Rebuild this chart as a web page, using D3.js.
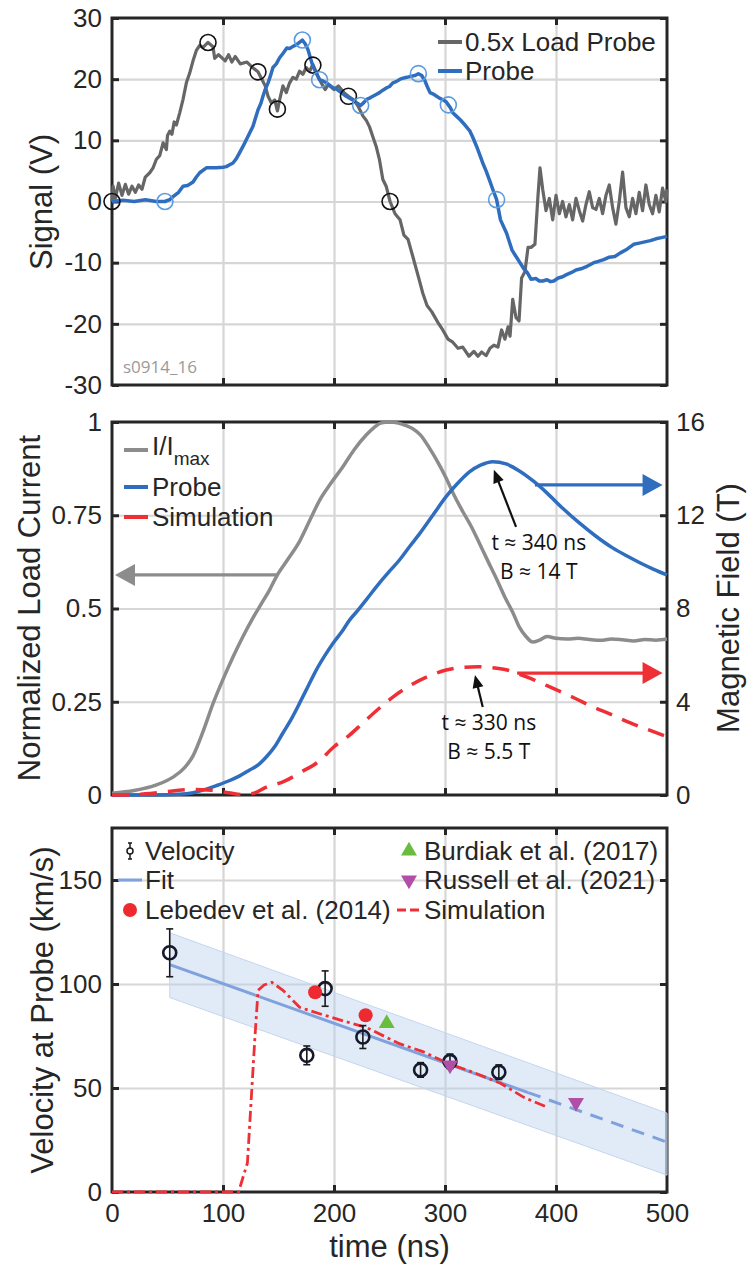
<!DOCTYPE html>
<html>
<head>
<meta charset="utf-8">
<script src="https://cdn.jsdelivr.net/npm/d3@7"></script>
<style>
  body { margin: 0; background: #fff; }
  text { font-family: "Liberation Sans", Arial, Helvetica, sans-serif; fill: #262626; }
  .note { font-family: "Open Sans", "Noto Sans", sans-serif; }
</style>
</head>
<body>
<div id="chart"></div>
<script>
// ---- shared axis values
const timeTicks = [0, 100, 200, 300, 400, 500];
const signalTicks = [-30, -20, -10, 0, 10, 20, 30];
const currentTicks = [0, 0.25, 0.5, 0.75, 1];
const fieldTicks = [0, 4, 8, 12, 16];
const velTicks = [0, 50, 100, 150];

// ---- top panel: raw signals [t (ns), V]
const loadProbe = [[0,0],[1,2.5],[3,0.5],[6,3],[9,1],[12,2.8],[15,1.2],[18,2.5],[21,1.5],[24,2.7],[27,2],[30,4],
  [34,4.7],[37,5.5],[40,6.9],[43,7.5],[46,9.6],[49,8.5],[50,10.8],[52,11.5],[54,11],[56,13],[58,12.5],[61,14.5],
  [64,16.7],[67,19.4],[70,21],[73,23],[76,24.7],[79,25.5],[82,25.2],[86.5,26],[91,25.3],[92.5,23.4],[96,24],
  [102,23],[105,24],[108,22.8],[111,23.7],[115.6,22.5],[121.6,22.8],[126,22],[131.5,21.2],[135,20],[138,18.9],
  [140.6,17.2],[143.6,16.1],[146.6,16.6],[149,14.8],[151,16.6],[154,18.9],[157,17.8],[160,19.4],[163,20.3],
  [166,20],[169,21.3],[172,20.8],[175,21.9],[178,21.3],[181,22.4],[185.5,20.5],[188.5,19.4],[192,18.3],[195,19.1],
  [200,18.3],[204,18.9],[209,17.8],[213,17.2],[218,16.6],[221.6,15.6],[226,14],[229,13.3],[232,12.2],[235,10.6],
  [238,9],[241,6.8],[244,3.6],[247,2.5],[250.5,0],[255,-2],[259.5,-3],[263,-5.5],[266.7,-6.2],[271,-9],
  [276.6,-12.7],[280,-15],[283.8,-17],[288,-18],[293.7,-19.8],[298,-21],[302.7,-22.5],[307,-23],[311.7,-24],
  [316,-23.8],[321.6,-25.3],[326,-24.5],[329.7,-25.3],[333,-24.6],[337,-25.2],[340.5,-24],[344,-23.5],
  [347.7,-23.8],[351,-21],[354,-22.5],[356.8,-20.5],[358.6,-22],[361,-16],[364,-19],[366.7,-19.5],[369,-12.5],
  [372,-11.5],[374.8,-7.5],[377.5,-7.5],[381,-7],[383.8,1],[385.6,5.5],[388,2],[391,-1.5],[394,0.5],[397,-3],
  [400,1],[403,-2],[406,0],[409,-2.5],[412,-0.5],[415,-3],[418,0.5],[421,-1.5],[424,-3.2],[427,-0.5],[430,1.6],
  [433,-1],[436,-1.3],[439,0.5],[442,-2],[445,1],[448,2.7],[451,-1],[454,-3.7],[457,0],[460,4.8],[463,-1],
  [466,-2.5],[469,0.5],[472,-2],[475,1.5],[478,-1.5],[481,2.7],[484,-0.5],[487,-2],[490,1],[493,-1.7],[496,2.2],
  [499,0],[500,2]];
const probeSignal = [[0,0],[10,0.2],[20,0],[30,0.3],[40,0],[47.7,0],[52,0.3],[55,0.8],[60,1.5],[64,2.5],[68,2.6],
  [73,3.2],[76,4],[79,4.7],[85,5.5],[94,5.5],[100,5.6],[103,5.7],[106,6],[109,6.3],[112,7],[115,8],[118,9],
  [121,10.1],[124,11.2],[127,12.3],[129,13.5],[131.6,15],[134,16],[136,17.2],[138,18.3],[140.6,19.4],[143,20.7],
  [145,21.9],[148,22.5],[151,23.5],[154,24.2],[157.5,25.1],[160,25],[163.5,25.4],[166,25.6],[169.5,26.1],
  [171.5,26.4],[174,25.8],[176.6,24.8],[179,23.3],[181,22.1],[184,21],[187,19.9],[190,19.7],[193.4,19.4],
  [196,19],[199,18.6],[202,18.4],[205,18],[208,17.6],[211,17.2],[214,16.9],[217,16.6],[220,16.2],[224,15.7],
  [227,16.2],[229.4,16.7],[232,16.9],[235,17.2],[238,17.5],[241,17.8],[244,18.2],[247.5,18.6],[250,18.8],
  [253,19.4],[256,19.6],[259.5,20],[263,20.2],[265.5,20.3],[270,20.5],[273,20.6],[276,20.9],[279,20.6],
  [282,19.7],[284,18.8],[286.5,17.8],[289,17.6],[292.5,17.2],[295,16.9],[298.5,16.6],[301,16.3],[303,15.8],
  [305,15.3],[307,14.5],[310,14],[313.5,13.4],[318,12.5],[322.5,11.5],[325,10.5],[328.5,9],[331,7.8],[334,6.3],
  [337,5],[340.5,3.3],[343,2],[346.5,0.3],[350,-3],[355.5,-5.2],[360.5,-8],[364,-9],[367.5,-10],[371,-11],
  [374,-11.6],[377.5,-12.7],[382,-12.6],[385,-13],[388,-13],[392,-12.8],[395,-13.1],[398,-13],[402,-12.5],
  [406,-12.3],[409,-12],[414,-11.6],[418,-11.2],[422.5,-11],[428,-10.6],[434,-10],[438,-9.8],[443,-9.5],
  [448,-9.1],[453,-9],[458,-8.4],[464,-7.8],[470,-7],[475,-6.8],[480,-6.6],[485,-6.4],[490,-6.1],[495,-5.9],
  [500,-5.7]];
const loadMarks = [[0,0],[86.5,26],[131.5,21.2],[149,15.1],[181,22.3],[213,17.2],[250.5,0]];
const probeMarks = [[47.7,0],[171.5,26.4],[187,19.9],[224,15.7],[276,20.9],[303,15.8],[346.5,0.3]];

// ---- middle panel: I/Imax (normalized), probe and simulation field (T)
const currentNorm = [[0,0.005],[20,0.012],[40,0.027],[55,0.048],[65,0.072],[73,0.105],[82,0.17],[91,0.245],
  [100,0.31],[109,0.37],[118,0.425],[127,0.475],[135,0.515],[142,0.55],[148,0.585],[158,0.63],[169,0.68],
  [178,0.735],[187,0.79],[197,0.835],[208,0.88],[218,0.925],[229,0.965],[236,0.985],[242,0.997],[250,1.0],
  [258,0.997],[265,0.99],[271,0.982],[278,0.965],[286,0.93],[294,0.89],[301,0.85],[308,0.805],[316,0.76],
  [324,0.718],[331,0.675],[339,0.625],[347,0.576],[354,0.53],[361,0.49],[367,0.45],[373,0.425],[379,0.41],
  [385,0.415],[392,0.425],[400,0.42],[410,0.418],[420,0.42],[430,0.417],[440,0.415],[450,0.418],[460,0.416],
  [470,0.413],[480,0.417],[490,0.415],[500,0.418]];
const probeField = [[0,0],[40,0],[60,0.03],[73,0.1],[85,0.25],[94,0.4],[105,0.6],[115,0.82],[124,1.07],
  [132,1.3],[139,1.63],[147,2.1],[154,2.66],[162,3.3],[169,3.94],[177,4.7],[184,5.36],[192,6.0],[199,6.5],
  [207,7.0],[214,7.5],[222,7.95],[229,8.37],[241,9.1],[250,9.6],[259,10.08],[268,10.65],[277,11.2],[289,12.0],
  [301,12.8],[311,13.35],[322,13.86],[332,14.15],[343,14.3],[355,14.2],[367,13.9],[380,13.45],[392,12.95],
  [406,12.3],[421,11.67],[436,11.1],[451,10.6],[464,10.25],[476,9.95],[488,9.68],[500,9.44]];
const simField = [[0,0],[15,0],[30,0.05],[45,0.12],[60,0.2],[75,0.24],[90,0.2],[105,0.1],[118,0.02],[128,0.08],
  [139,0.34],[154,0.56],[171,1.0],[186,1.43],[200,2.07],[214,2.57],[226,3.09],[241,3.73],[253,4.2],[266,4.62],
  [284,5.07],[301,5.36],[315,5.47],[330,5.5],[345,5.45],[356,5.36],[366,5.2],[377,5.0],[389,4.75],[401,4.5],
  [417,4.15],[433,3.78],[450,3.45],[467,3.09],[483,2.8],[500,2.5]];

// ---- bottom panel: velocity at probe (km/s)
const velT = [52, 175.5, 192, 226, 278, 304.5, 348.5];
const velV = [115, 65.7, 97.8, 74.5, 58.7, 62.8, 57.6];
const velErr = [11.5, 4.5, 8.5, 5.5, 3.5, 3.5, 3.5];
const fitSolid = [[52,109.3],[375,47.8]];
const fitDashed = [[375,47.8],[500,24]];
const bandUpper = [[52,124.6],[500,37.9]];
const bandLower = [[52,93.5],[500,8.1]];
const lebedev = [[183,96],[228.5,85]];
const burdiak = [[247.5,81]];
const russell = [[304.5,61],[418,43]];
const simVelocity = [[0,0],[110,0],[114,0],[122,14],[128.6,73],[131.6,97],[137,99.5],[144,100.8],[154,97],
  [169,88.8],[187,85.7],[210,82],[229.5,79],[259,71.3],[280,67.5],[302,62],[328,57],[350,52.3],[371,45.5],
  [392,40.8]];

// ---- layout
const W = 747, H = 1268;
const L = 112, R = 667;
const axisColor = '#262626', gridColor = '#d6d6d6';
const cGray = '#666666', cGrayLight = '#8c8c8c', cBlue = '#2f6ebf', cBlueLight = '#5b9be0',
  cRed = '#ee2f36', cFit = '#7fa1dc';

const svg = d3.select('#chart').append('svg')
  .attr('width', W).attr('height', H);

const x = d3.scaleLinear().domain([0, 500]).range([L, R]);

function panel(top, bottom, yDom, yTicks) {
  const y = d3.scaleLinear().domain(yDom).range([bottom, top]);
  const g = svg.append('g');
  const h = bottom - top, w = R - L;

  // grid
  g.append('g').attr('transform', `translate(0,${bottom})`)
    .call(d3.axisBottom(x).tickValues(timeTicks.slice(1, -1)).tickSize(-h).tickFormat(''))
    .call(a => a.select('.domain').remove())
    .selectAll('line').attr('stroke', gridColor).attr('stroke-width', 2.2);
  g.append('g').attr('transform', `translate(${L},0)`)
    .call(d3.axisLeft(y).tickValues(yTicks.filter(d => d > yDom[0] && d < yDom[1])).tickSize(-w).tickFormat(''))
    .call(a => a.select('.domain').remove())
    .selectAll('line').attr('stroke', gridColor).attr('stroke-width', 2.2);

  g.append('rect')
    .attr('x', L).attr('y', top).attr('width', w).attr('height', h)
    .attr('fill', 'none').attr('stroke', axisColor).attr('stroke-width', 3);

  // inward tick marks on all four sides
  const inner = timeTicks.slice(1, -1);
  g.append('g').attr('transform', `translate(0,${top})`)
    .call(d3.axisTop(x).tickValues(inner).tickSize(-7).tickFormat(''));
  g.append('g').attr('transform', `translate(0,${bottom})`)
    .call(d3.axisBottom(x).tickValues(inner).tickSize(-7).tickFormat(''));
  g.append('g').attr('class', 'yleft').attr('transform', `translate(${L},0)`)
    .call(d3.axisLeft(y).tickValues(yTicks).tickSize(-7).tickPadding(10).tickFormat(d => String(d)));
  g.selectAll('.domain').remove();
  g.selectAll('.tick line').filter(function() { return this.getAttribute('stroke') === 'currentColor'; })
    .attr('stroke', axisColor).attr('stroke-width', 3);
  g.selectAll('g').attr('font-size', 26).attr('font-family', '"Liberation Sans", Arial, sans-serif');
  g.selectAll('.tick text').attr('fill', axisColor);

  const data = svg.append('g');
  return { y, g, data };
}

function yRightTicks(p, yScale, ticks, labels) {
  p.g.append('g').attr('transform', `translate(${R},0)`)
    .call(d3.axisRight(yScale).tickValues(ticks).tickSize(-7).tickPadding(9)
      .tickFormat(labels ? d => String(d) : ''))
    .call(a => a.select('.domain').remove())
    .attr('font-size', 26).attr('font-family', '"Liberation Sans", Arial, sans-serif')
    .call(a => a.selectAll('line').attr('stroke', axisColor).attr('stroke-width', 3))
    .call(a => a.selectAll('text').attr('fill', axisColor));
}

function yLabel(text, xPos, yMid) {
  svg.append('text')
    .attr('transform', `translate(${xPos},${yMid}) rotate(-90)`)
    .attr('text-anchor', 'middle').attr('font-size', 31).text(text);
}

function arrowHead(g, tip, dir, color, len, half) {
  // dir: unit vector pointing along the arrow
  const [tx, ty] = tip, [dx, dy] = dir;
  const bx = tx - dx * len, by = ty - dy * len;
  g.append('path')
    .attr('d', `M${tx},${ty}L${bx - dy * half},${by + dx * half}L${bx + dy * half},${by - dx * half}Z`)
    .attr('fill', color);
}

// ================= TOP PANEL =================
const p1 = panel(18, 385, [-30, 30], signalTicks);
yRightTicks(p1, p1.y, signalTicks, false);
yLabel('Signal (V)', 52, 202);

const line1 = d3.line().x(d => x(d[0])).y(d => p1.y(d[1]));
p1.data.append('path').datum(loadProbe).attr('d', line1)
  .attr('fill', 'none').attr('stroke', cGray).attr('stroke-width', 3.2).attr('stroke-linejoin', 'round');
p1.data.append('path').datum(probeSignal).attr('d', line1)
  .attr('fill', 'none').attr('stroke', cBlue).attr('stroke-width', 3.5).attr('stroke-linejoin', 'round');
p1.data.selectAll('circle.lm').data(loadMarks).join('circle')
  .attr('cx', d => x(d[0])).attr('cy', d => p1.y(d[1])).attr('r', 8)
  .attr('fill', 'none').attr('stroke', '#111').attr('stroke-width', 1.6);
p1.data.selectAll('circle.pm').data(probeMarks).join('circle')
  .attr('cx', d => x(d[0])).attr('cy', d => p1.y(d[1])).attr('r', 8)
  .attr('fill', 'none').attr('stroke', cBlueLight).attr('stroke-width', 1.6);

svg.append('text').attr('class', 'note').attr('x', 123).attr('y', 373)
  .attr('font-size', 17).style('fill', '#9a9a9a').text('s0914_16');

const leg1 = svg.append('g');
[['0.5x Load Probe', cGray, 42], ['Probe', cBlue, 71]].forEach(([lab, col, yy]) => {
  leg1.append('line').attr('x1', 438).attr('x2', 462).attr('y1', yy).attr('y2', yy)
    .attr('stroke', col).attr('stroke-width', 4);
  leg1.append('text').attr('x', 465).attr('y', yy + 9).attr('font-size', 26).text(lab);
});

// ================= MIDDLE PANEL =================
const p2 = panel(422, 795, [0, 1], currentTicks);
const yB = d3.scaleLinear().domain([0, 16]).range([795, 422]);
yRightTicks(p2, yB, fieldTicks, true);
yLabel('Normalized Load Current', 40, 608);
yLabel('Magnetic Field (T)', 739, 608);

p2.data.append('path').datum(currentNorm)
  .attr('d', d3.line().curve(d3.curveMonotoneX).x(d => x(d[0])).y(d => p2.y(d[1])))
  .attr('fill', 'none').attr('stroke', cGrayLight).attr('stroke-width', 3.5);
const lineB = d3.line().curve(d3.curveMonotoneX).x(d => x(d[0])).y(d => yB(d[1]));
p2.data.append('path').datum(probeField).attr('d', lineB)
  .attr('fill', 'none').attr('stroke', cBlue).attr('stroke-width', 3.5);
p2.data.append('path').datum(simField).attr('d', lineB)
  .attr('fill', 'none').attr('stroke', cRed).attr('stroke-width', 3.5).attr('stroke-dasharray', '17,11');

// axis arrows
const axArrows = [
  { from: [149, 0.59], to: [2.7, 0.59], s: p2.y, col: cGrayLight },
  { from: [381, 13.3], to: [496, 13.3], s: yB, col: cBlue },
  { from: [365, 5.23], to: [496, 5.23], s: yB, col: cRed }
];
axArrows.forEach(a => {
  const x0 = x(a.from[0]), x1 = x(a.to[0]), yy = a.s(a.from[1]);
  const dir = x1 > x0 ? 1 : -1;
  p2.data.append('line').attr('x1', x0).attr('x2', x1 - dir * 14).attr('y1', yy).attr('y2', yy)
    .attr('stroke', a.col).attr('stroke-width', 3.2);
  arrowHead(p2.data, [x1, yy], [dir, 0], a.col, 20, 11);
});

// peak annotations
const notes = [
  { tail: [364, 11.5], tip: [344, 13.95], lines: ['t \u2248 340 ns', 'B \u2248 14 T'], at: [384.5, 10.5] },
  { tail: [334, 3.77], tip: [327, 5.15], lines: ['t \u2248 330 ns', 'B \u2248 5.5 T'], at: [339.5, 2.79] }
];
notes.forEach(n => {
  const tx = x(n.tip[0]), ty = yB(n.tip[1]), sx = x(n.tail[0]), sy = yB(n.tail[1]);
  const len = Math.hypot(tx - sx, ty - sy), ux = (tx - sx) / len, uy = (ty - sy) / len;
  p2.data.append('line').attr('x1', sx).attr('y1', sy).attr('x2', tx - ux * 10).attr('y2', ty - uy * 10)
    .attr('stroke', '#111').attr('stroke-width', 2.2);
  arrowHead(p2.data, [tx, ty], [ux, uy], '#111', 13, 5.5);
  n.lines.forEach((s, i) => {
    p2.data.append('text').attr('class', 'note')
      .attr('x', x(n.at[0])).attr('y', yB(n.at[1]) + i * 29)
      .attr('text-anchor', 'middle').attr('font-size', 21).style('fill', '#111').text(s);
  });
});

const leg2 = svg.append('g');
[[cGrayLight, 450, null], [cBlue, 487, 'Probe'], [cRed, 517, 'Simulation']].forEach(([col, yy, lab]) => {
  leg2.append('line').attr('x1', 124).attr('x2', 148).attr('y1', yy).attr('y2', yy)
    .attr('stroke', col).attr('stroke-width', 4);
  const t = leg2.append('text').attr('x', 152).attr('y', yy + 9).attr('font-size', 26);
  if (lab) t.text(lab);
  else {
    t.attr('y', 455);
    t.append('tspan').text('I/I');
    t.append('tspan').attr('font-size', 19).attr('dy', 10).text('max');
  }
});

// ================= BOTTOM PANEL =================
const p3 = panel(828, 1192, [0, 175], velTicks);
yRightTicks(p3, p3.y, velTicks, false);
yLabel('Velocity at Probe (km/s)', 53, 1010);
p3.g.append('g').attr('transform', 'translate(0,1192)')
  .call(d3.axisBottom(x).tickValues(timeTicks).tickSize(0).tickPadding(12).tickFormat(d => String(d)))
  .call(a => a.select('.domain').remove())
  .attr('font-size', 26).attr('font-family', '"Liberation Sans", Arial, sans-serif')
  .call(a => a.selectAll('text').attr('fill', axisColor));
svg.append('text').attr('x', (L + R) / 2).attr('y', 1257).attr('text-anchor', 'middle')
  .attr('font-size', 31).text('time (ns)');

const band = bandUpper.concat(bandLower.slice().reverse());
p3.data.append('path').datum(band)
  .attr('d', d3.line().x(d => x(d[0])).y(d => p3.y(d[1])).curve(d3.curveLinearClosed))
  .attr('fill', '#bcd3f0').attr('fill-opacity', 0.45)
  .attr('stroke', '#c4d6ef').attr('stroke-width', 1);

const line3 = d3.line().x(d => x(d[0])).y(d => p3.y(d[1]));
p3.data.append('path').datum(fitSolid).attr('d', line3)
  .attr('fill', 'none').attr('stroke', cFit).attr('stroke-width', 3);
p3.data.append('path').datum(fitDashed).attr('d', line3)
  .attr('fill', 'none').attr('stroke', cFit).attr('stroke-width', 3).attr('stroke-dasharray', '13,9');
p3.data.append('path').datum(simVelocity).attr('d', line3)
  .attr('fill', 'none').attr('stroke', cRed).attr('stroke-width', 2.8)
  .attr('stroke-dasharray', '11,4,3,4');

// velocity points with error bars
const vel = velT.map((t, i) => ({ t, v: velV[i], e: velErr[i] }));
const vg = p3.data.selectAll('g.vel').data(vel).join('g');
vg.append('line').attr('x1', d => x(d.t)).attr('x2', d => x(d.t))
  .attr('y1', d => p3.y(d.v + d.e)).attr('y2', d => p3.y(d.v - d.e))
  .attr('stroke', '#1a1a1a').attr('stroke-width', 1.6);
[1, -1].forEach(s => {
  vg.append('line').attr('x1', d => x(d.t) - 3.5).attr('x2', d => x(d.t) + 3.5)
    .attr('y1', d => p3.y(d.v + s * d.e)).attr('y2', d => p3.y(d.v + s * d.e))
    .attr('stroke', '#1a1a1a').attr('stroke-width', 1.6);
});
vg.append('circle').attr('cx', d => x(d.t)).attr('cy', d => p3.y(d.v)).attr('r', 6.5)
  .attr('fill', 'none').attr('stroke', '#15192b').attr('stroke-width', 2.6);

p3.data.selectAll('circle.leb').data(lebedev).join('circle')
  .attr('cx', d => x(d[0])).attr('cy', d => p3.y(d[1])).attr('r', 7).attr('fill', '#ec2a30');
const tri = d3.symbol().type(d3.symbolTriangle).size(110);
p3.data.selectAll('path.bur').data(burdiak).join('path')
  .attr('transform', d => `translate(${x(d[0])},${p3.y(d[1])})`).attr('d', tri).attr('fill', '#6abc3e');
p3.data.selectAll('path.rus').data(russell).join('path')
  .attr('transform', d => `translate(${x(d[0])},${p3.y(d[1])}) rotate(180)`).attr('d', tri).attr('fill', '#b04ea8');

// legend
const leg3 = svg.append('g');
leg3.append('line').attr('x1', 130).attr('x2', 130).attr('y1', 843).attr('y2', 859)
  .attr('stroke', '#1a1a1a').attr('stroke-width', 1.5);
[843, 859].forEach(yy => leg3.append('line').attr('x1', 128).attr('x2', 132).attr('y1', yy).attr('y2', yy)
  .attr('stroke', '#1a1a1a').attr('stroke-width', 1.5));
leg3.append('circle').attr('cx', 130).attr('cy', 851).attr('r', 3).attr('fill', '#fff')
  .attr('stroke', '#1a1a1a').attr('stroke-width', 1.5);
leg3.append('line').attr('x1', 118).attr('x2', 142).attr('y1', 880).attr('y2', 880)
  .attr('stroke', cFit).attr('stroke-width', 3);
leg3.append('circle').attr('cx', 130).attr('cy', 910).attr('r', 7).attr('fill', '#ec2a30');
leg3.append('path').attr('transform', 'translate(409,851)').attr('d', tri).attr('fill', '#6abc3e');
leg3.append('path').attr('transform', 'translate(409,880) rotate(180)').attr('d', tri).attr('fill', '#b04ea8');
leg3.append('line').attr('x1', 397).attr('x2', 420).attr('y1', 910).attr('y2', 910)
  .attr('stroke', cRed).attr('stroke-width', 2.8).attr('stroke-dasharray', '9,4');
[['Velocity', 145, 851], ['Fit', 145, 880], ['Lebedev et al. (2014)', 145, 910],
 ['Burdiak et al. (2017)', 424, 851], ['Russell et al. (2021)', 424, 880], ['Simulation', 424, 910]]
  .forEach(([lab, xx, yy]) => leg3.append('text').attr('x', xx).attr('y', yy + 9).attr('font-size', 26).text(lab));
</script>
</body>
</html>
